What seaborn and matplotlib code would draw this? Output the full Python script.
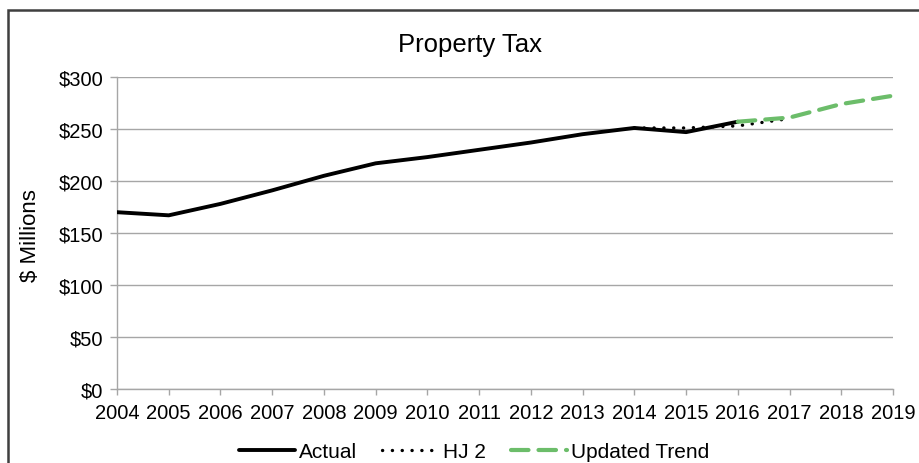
import matplotlib
matplotlib.use("Agg")
import matplotlib.pyplot as plt
from matplotlib.patches import Rectangle
from matplotlib.ticker import FuncFormatter
import seaborn as sns
import pandas as pd

# Property tax revenue, $ millions
actual_years = [2004, 2005, 2006, 2007, 2008, 2009, 2010, 2011, 2012, 2013, 2014, 2015, 2016]
actual_vals = [170, 167, 178, 191, 205, 217, 223, 230, 237, 245, 251, 247, 257]

hj2_years = [2014, 2015, 2016, 2017]
hj2_vals = [251, 251, 253, 260]

trend_years = [2016, 2017, 2018, 2019]
trend_vals = [257, 261, 274, 282]

year_ticks = list(range(2004, 2020))
y_ticks = [0, 50, 100, 150, 200, 250, 300]

df = pd.concat([
    pd.DataFrame({"Year": actual_years, "Value": actual_vals, "Series": "Actual"}),
    pd.DataFrame({"Year": hj2_years, "Value": hj2_vals, "Series": "HJ 2"}),
    pd.DataFrame({"Year": trend_years, "Value": trend_vals, "Series": "Updated Trend"}),
], ignore_index=True)

sns.set_theme(style="white")
plt.rcParams["font.family"] = ["Liberation Sans", "DejaVu Sans"]

fig = plt.figure(figsize=(9.19, 4.64), dpi=100)
ax = fig.add_axes([117 / 919, 1 - 390 / 464, (893 - 117) / 919, (390 - 78) / 464])

palette = {"Actual": "black", "HJ 2": "black", "Updated Trend": "#6cbd6a"}
sns.lineplot(data=df, x="Year", y="Value", hue="Series", palette=palette,
             ax=ax, legend=False, sort=False)

styles = {
    "Actual": dict(lw=2.8, ls="-"),
    "HJ 2": dict(lw=2.4, ls=(0, (0.05, 2.9))),
    "Updated Trend": dict(lw=3.0, ls=(0, (4.2, 2.4))),
}
for line, name in zip(ax.get_lines(), ["Actual", "HJ 2", "Updated Trend"]):
    line.set_linewidth(styles[name]["lw"])
    line.set_linestyle(styles[name]["ls"])
    if name != "Actual":
        line.set_dash_capstyle("round")
    line.set_zorder({"Actual": 3, "HJ 2": 4, "Updated Trend": 5}[name])
    line.set_label(name)

ax.set_xlim(2004, 2019)
ax.set_ylim(0, 300)
ax.set_xticks(year_ticks)
ax.set_xticklabels([str(y) for y in year_ticks])
ax.set_yticks(y_ticks)
ax.yaxis.set_major_formatter(FuncFormatter(lambda v, p: f"${v:,.0f}"))

grid_c = "#a6a6a6"
ax.grid(axis="y", color=grid_c, lw=1.0)
ax.grid(axis="x", visible=False)
ax.set_axisbelow(True)
for side in ["top", "right"]:
    ax.spines[side].set_visible(False)
for side in ["left", "bottom"]:
    ax.spines[side].set_color(grid_c)
    ax.spines[side].set_linewidth(1.0)

ax.tick_params(axis="x", direction="out", length=4, width=1, color=grid_c,
               labelsize=14.5, pad=6, labelcolor="black")
ax.tick_params(axis="y", direction="out", length=5, width=1, color=grid_c,
               labelsize=14.5, pad=5, labelcolor="black")
ax.tick_params(left=True, bottom=True)

ax.set_xlabel("")
ax.set_ylabel("")
fig.text(30 / 919, 1 - 236 / 464, "$ Millions", rotation=90, fontsize=16,
         ha="center", va="center", color="black")
fig.text(470 / 919, 1 - 45 / 464, "Property Tax", fontsize=18.5,
         ha="center", va="center", color="black")

handles = ax.get_lines()
leg = fig.legend(handles, ["Actual", "HJ 2", "Updated Trend"], loc="center",
                 bbox_to_anchor=(474 / 919, 1 - 453 / 464), ncol=3, frameon=False,
                 fontsize=15, handlelength=2.7, handletextpad=0.2, columnspacing=1.2,
                 borderpad=0)
for t in leg.get_texts():
    t.set_color("black")

# chart frame
fig.patches.append(Rectangle((8 / 919, -0.1), 1.2, (464 - 10.5) / 464 + 0.1,
                             transform=fig.transFigure, fill=False,
                             edgecolor="#3f3f3f", lw=1.8, zorder=0))

fig.savefig("out.png", dpi=100)
